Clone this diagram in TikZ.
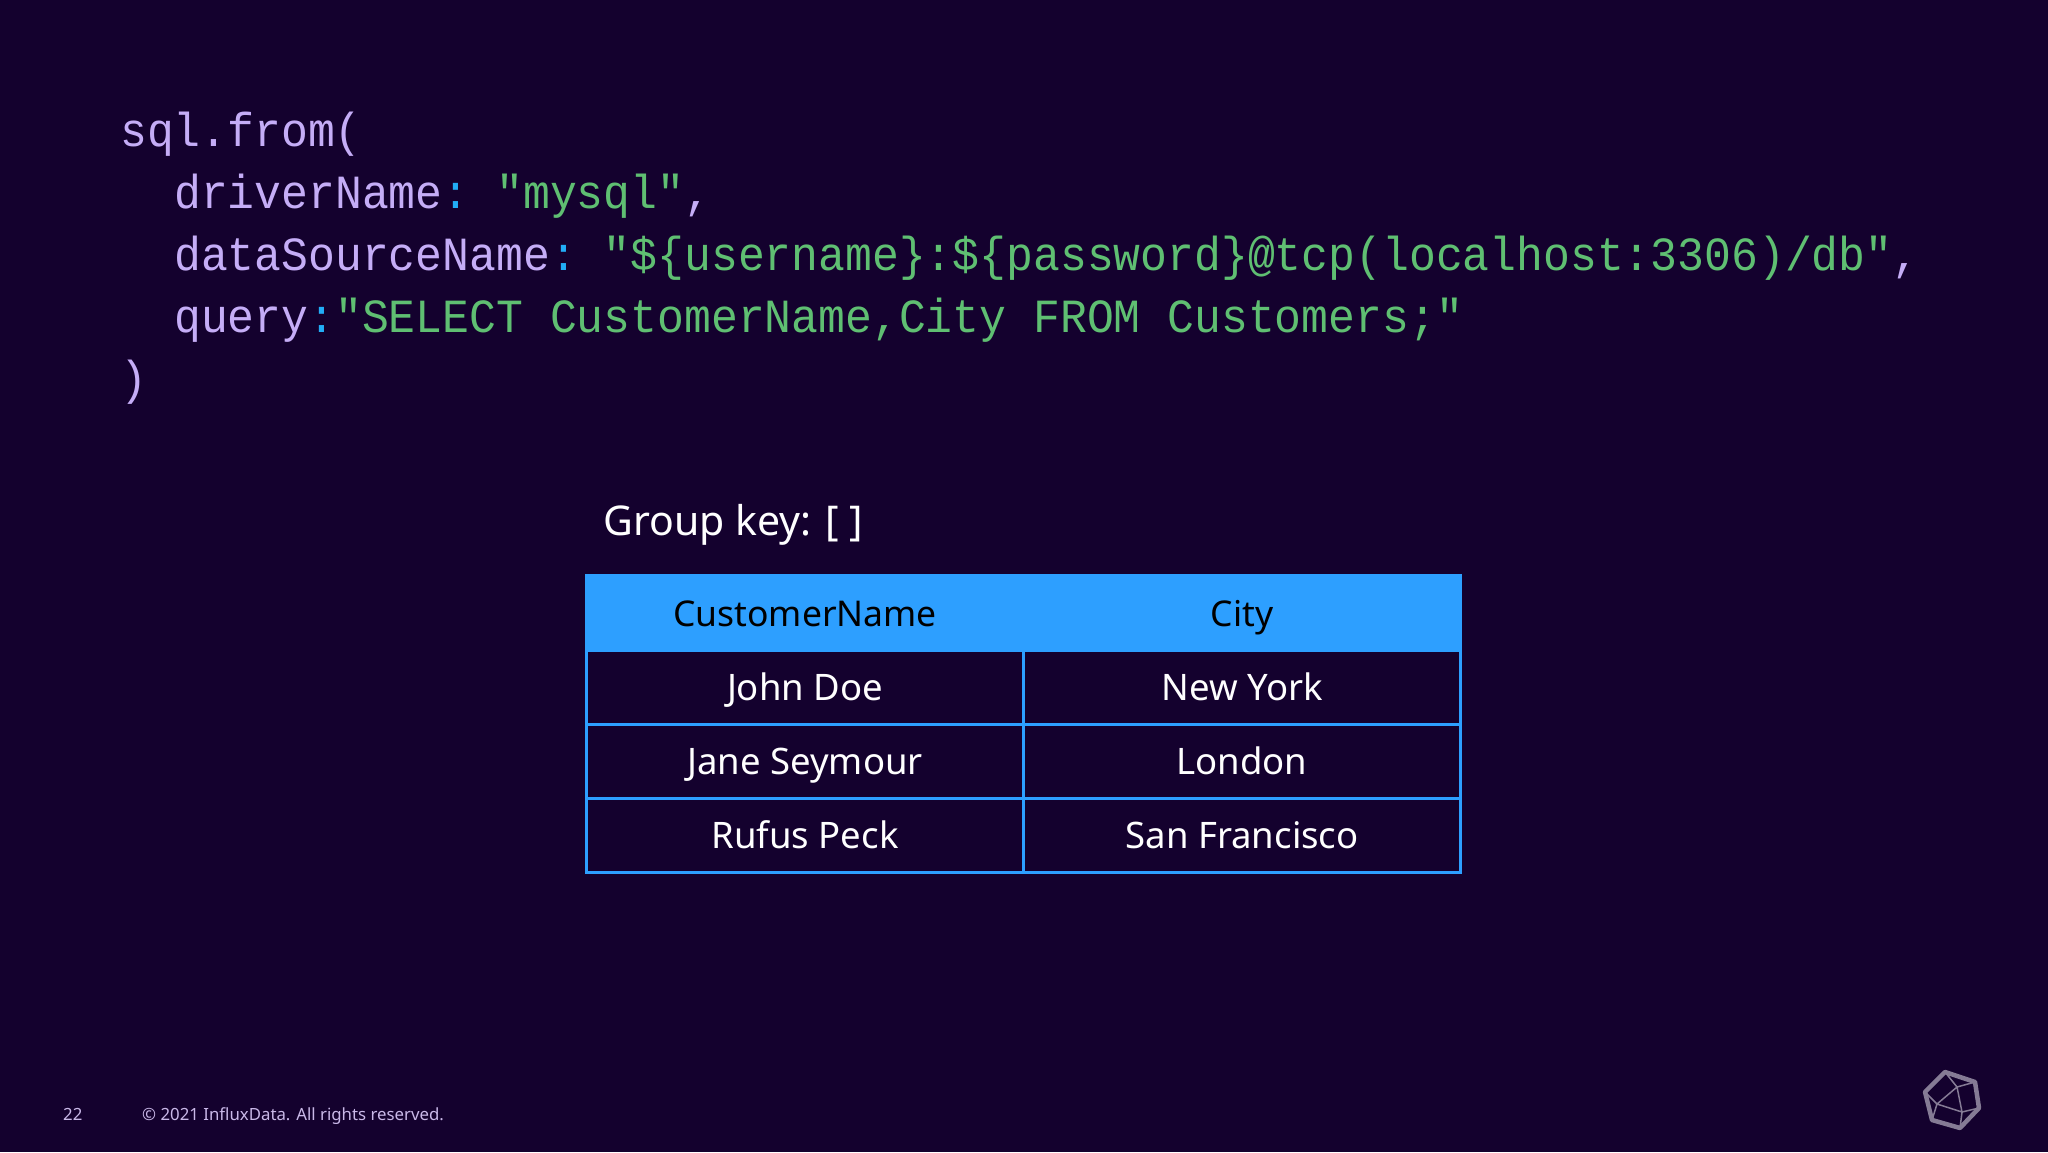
\documentclass[tikz,border=0pt]{standalone}
\usepackage{fontspec}
\setmainfont{Noto Sans}
\newfontfamily\codefont[FakeStretch=0.94]{Liberation Mono}
\definecolor{slidebg}{HTML}{14012E}
\definecolor{tableblue}{HTML}{2D9FFF}
\definecolor{keycol}{HTML}{C5ADF7}
\definecolor{strcol}{HTML}{5FBF72}
\definecolor{sepcol}{HTML}{22ADF6}
\definecolor{footcol}{HTML}{C9B8E8}
\definecolor{logocol}{HTML}{857B95}
\newcommand{\kk}[1]{\textcolor{keycol}{#1}}
\newcommand{\sv}[1]{\textcolor{strcol}{#1}}
\newcommand{\sep}{\textcolor{sepcol}{:}}
\begin{document}
\begin{tikzpicture}[x=1pt,y=-1pt,
        codeline/.style={anchor=base west,inner sep=0pt,font=\codefont\frenchspacing\fontsize{47.6}{50}\selectfont},
        foot/.style={anchor=base west,inner sep=0pt,text=footcol,font=\fontsize{16.8}{20}\selectfont},
        cell/.style={draw=tableblue,line width=3pt,text=white,minimum width=437pt,minimum height=74pt,inner sep=0pt,
            text height=30pt,text depth=4pt,font=\fontsize{36.5}{40}\selectfont},
        headcell/.style={cell,fill=tableblue,text=black,minimum height=75pt,font=\fontsize{35.5}{40}\selectfont}]
    \useasboundingbox (0,0) rectangle (2048,1152);
    \fill[slidebg] (0,0) rectangle (2048,1152);

    \node[codeline] (line1) at (120,146) {\kk{sql.from(}};
    \node[codeline] (line2) at (174,208) {\kk{driverName}\sep{} \sv{"mysql"}\kk{,}};
    \node[codeline] (line3) at (174,270) {\kk{dataSourceName}\sep{} \sv{"\$\{username\}:\$\{password\}@tcp(localhost:3306)/db"}\kk{,}};
    \node[codeline] (line4) at (174,332) {\kk{query}\sep\sv{"SELECT CustomerName,City FROM Customers;"}};
    \node[codeline] (line5) at (120,394) {\kk{)}};

    \node[anchor=base west,inner sep=0pt,text=white,font=\fontsize{41}{48}\selectfont] (groupkey) at (603,535) {Group key: [ ]};

    \node[headcell] (head1) at (805,613) {CustomerName};
    \node[headcell] (head2) at (1242,613) {City};
    \node[cell] (john) at (805,687) {John Doe};
    \node[cell] (newyork) at (1242,687) {New York};
    \node[cell] (jane) at (805,761) {Jane Seymour};
    \node[cell] (london) at (1242,761) {London};
    \node[cell] (rufus) at (805,835.5) {Rufus Peck};
    \node[cell] (sanfran) at (1242,835.5) {San Francisco};

    \node[foot] (pagenum) at (63,1120) {22};
    \node[foot] (copyright) at (142,1120) {© 2021 InfluxData. All rights reserved.};

    % logo
    \coordinate (a) at (1945,1072);
    \coordinate (b) at (1975,1082);
    \coordinate (c) at (1979,1108);
    \coordinate (d) at (1960,1128);
    \coordinate (e) at (1932,1120);
    \coordinate (f) at (1925,1092);
    \coordinate (g) at (1957,1087);
    \coordinate (h) at (1937,1104);
    \coordinate (i) at (1962,1112);
    \draw[logocol,line width=4.5pt,line join=round] (a) -- (b) -- (c) -- (d) -- (e) -- (f) -- cycle;
    \draw[logocol,line width=1.5pt] (a) -- (g) -- (b);
    \draw[logocol,line width=1.5pt] (g) -- (h) -- (i) -- (g);
    \draw[logocol,line width=1.5pt] (f) -- (h) -- (e);
    \draw[logocol,line width=1.5pt] (c) -- (i) -- (d);
\end{tikzpicture}
\end{document}
